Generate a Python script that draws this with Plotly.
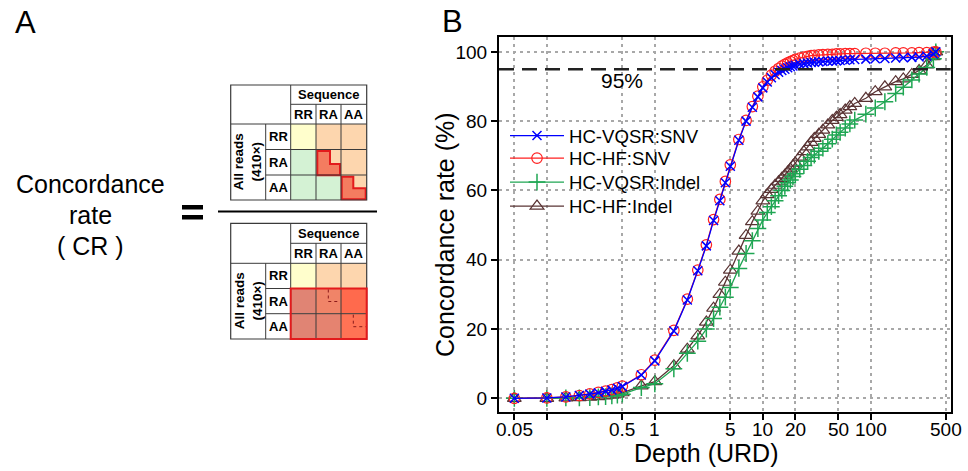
import math
import plotly.graph_objects as go

# ---------------- data (Panel B) ----------------
depth = [0.05, 0.1, 0.15, 0.2, 0.25, 0.3, 0.35, 0.4, 0.45, 0.5,
         0.75, 1,
         1.5, 2, 2.5, 3, 3.5, 4, 4.5, 5,
         6, 7, 8, 9, 10, 11, 12, 13, 14, 15, 16, 17, 18, 19, 20,
         22, 24, 26, 28, 30,
         33, 36, 40, 44, 48, 52, 58, 64, 71,
         90, 110, 135, 170, 200, 240, 280, 330, 380, 400]

snv_vqsr = [0, 0.1, 0.4, 0.8, 1.2, 1.6, 2.0, 2.4, 2.9, 3.4,
            6.7, 10.8,
            19.4, 28.4, 36.8, 44.0, 51.3, 57.0, 62.2, 67.0,
            74.5, 80.0, 84.0, 87.0, 89.6, 91.3, 92.5, 93.4, 94.1, 94.6, 95.0, 95.4, 95.7, 95.9, 96.1,
            96.4, 96.6, 96.8, 96.9, 97.0,
            97.1, 97.2, 97.3, 97.4, 97.4, 97.5, 97.6, 97.7, 97.8,
            97.9, 98.0, 98.1, 98.2, 98.3, 98.4, 98.5, 98.8, 99.4, 100]

snv_hf = [0, 0.1, 0.4, 0.8, 1.3, 1.7, 2.1, 2.5, 3.0, 3.5,
          6.8, 11.0,
          19.6, 28.6, 37.0, 44.3, 51.6, 57.4, 62.6, 67.4,
          74.7, 80.2, 84.2, 87.2, 89.9, 91.8, 93.3, 94.4, 95.2, 95.9, 96.4, 96.8, 97.2, 97.5, 97.8,
          98.2, 98.5, 98.7, 98.9, 99.0,
          99.1, 99.2, 99.3, 99.3, 99.4, 99.4, 99.5, 99.5, 99.5,
          99.6, 99.6, 99.6, 99.7, 99.7, 99.7, 99.8, 99.8, 99.9, 100]

indel_vqsr = [0, 0, 0.1, 0.1, 0.2, 0.4, 0.5, 0.7, 0.9, 1.2,
              3.1, 4.2,
              8.5, 13.0, 16.5, 20.0, 23.0, 26.3, 29.2, 32.0,
              37.5, 41.8, 45.5, 49.0, 51.5, 53.6, 55.3, 57.0, 58.5, 60.0, 61.2, 62.2, 63.0, 64.0, 64.8,
              66.1, 67.2, 68.4, 69.5, 70.2,
              71.3, 72.2, 73.5, 74.8, 76.0, 76.8, 78.0, 79.2, 80.3,
              82.0, 83.8, 85.6, 88.0, 89.8, 91.9, 93.6, 95.5, 98.0, 100]

indel_hf = [0, 0, 0.1, 0.2, 0.3, 0.5, 0.7, 0.9, 1.2, 1.6,
            3.6, 4.8,
            9.4, 14.2, 18.0, 22.0, 26.0, 30.0, 33.5, 37.0,
            42.5, 47.0, 51.0, 54.0, 57.0, 58.8, 60.3, 61.5, 62.5, 63.5, 64.4, 65.3, 66.2, 67.1, 67.9,
            69.6, 71.2, 72.6, 73.9, 75.0,
            76.2, 77.4, 78.9, 80.2, 81.1, 81.9, 83.2, 84.2, 85.1,
            86.6, 88.5, 89.9, 91.4, 92.2, 93.5, 94.6, 96.2, 98.6, 100]

series_names = ["HC-VQSR:SNV", "HC-HF:SNV", "HC-VQSR:Indel", "HC-HF:Indel"]
threshold = 95
threshold_label = "95%"

x_tick_vals = [0.05, 0.1, 0.5, 1, 5, 10, 20, 50, 100, 500]
x_tick_text = ["0.05", "", "0.5", "1", "5", "10", "20", "50", "100", "500"]
y_tick_vals = [0, 20, 40, 60, 80, 100]

# Panel A table content
geno = ["RR", "RA", "AA"]

# ---------------- helpers ----------------
W, H = 968, 471
FONT = "Arial, Liberation Sans, sans-serif"


def px(x):
    return x / W


def py(y):
    return 1 - y / H


def text(x, y, t, size, bold=False, angle=0, xref="paper", yref="paper"):
    return dict(xref=xref, yref=yref, x=x, y=y, text=(f"<b>{t}</b>" if bold else t), showarrow=False,
                xanchor="center", yanchor="middle", textangle=angle,
                font=dict(family=FONT, size=size, color="black"))


fig = go.Figure()

BLUE = "#0000FF"
RED = "#FF2020"
GREEN = "#1FA653"
BROWN = "#5A3434"

# draw order: indels first, SNVs on top
fig.add_trace(go.Scatter(x=depth, y=indel_hf, name=series_names[3], mode="lines+markers",
                         line=dict(color=BROWN, width=1.3),
                         marker=dict(symbol="triangle-up-open", size=12, color=BROWN,
                                     line=dict(width=1.2, color=BROWN)),
                         legend="legend4"))
fig.add_trace(go.Scatter(x=depth, y=indel_vqsr, name=series_names[2], mode="lines+markers",
                         line=dict(color=GREEN, width=1.3),
                         marker=dict(symbol="cross-thin", size=12, color=GREEN,
                                     line=dict(width=1.5, color=GREEN)),
                         legend="legend3"))
fig.add_trace(go.Scatter(x=depth, y=snv_hf, name=series_names[1], mode="lines+markers",
                         line=dict(color=RED, width=1.3),
                         marker=dict(symbol="circle-open", size=10.5, color=RED,
                                     line=dict(width=1.2, color=RED)),
                         legend="legend2"))
fig.add_trace(go.Scatter(x=depth, y=snv_vqsr, name=series_names[0], mode="lines+markers",
                         line=dict(color=BLUE, width=1.3),
                         marker=dict(symbol="x-thin", size=9, color=BLUE,
                                     line=dict(width=1.5, color=BLUE)),
                         legend="legend"))

x0p, x1p = 499, 950.7
y0p, y1p = 37.3, 412.3

fig.update_xaxes(type="log", range=[-1.443, 2.740], domain=[px(x0p), px(x1p)],
                 tickvals=x_tick_vals, showticklabels=False, automargin=False,
                 showline=True, mirror=True, linecolor="black", linewidth=2,
                 ticks="outside", ticklen=6, tickwidth=1.5, tickcolor="black",
                 showgrid=True, gridcolor="#A8A8A8", gridwidth=1.5, griddash="3px,4px",
                 zeroline=False)
fig.update_yaxes(range=[-4.04, 104.2], domain=[py(y1p), py(y0p)],
                 tickvals=y_tick_vals, automargin=False,
                 showline=True, mirror=True, linecolor="black", linewidth=2,
                 ticks="outside", ticklen=6, tickwidth=1.5, tickcolor="black",
                 tickfont=dict(family=FONT, size=19, color="black"),
                 showgrid=True, gridcolor="#A8A8A8", gridwidth=1.5, griddash="3px,4px",
                 zeroline=False)

shapes = []
annotations = []

# x tick labels, placed on the x axis scale
for v, t in zip(x_tick_vals, x_tick_text):
    if t:
        annotations.append(text(math.log10(v), py(429.5), t, 19, xref="x", yref="paper"))

# 95% threshold line
shapes.append(dict(type="line", xref="x domain", yref="y", x0=0, x1=1, y0=threshold, y1=threshold,
                   line=dict(color="#222222", width=2.5, dash="15px,8px")))
annotations.append(text(math.log10(0.5), 91.7, threshold_label, 21, xref="x", yref="y"))

# axis titles
annotations.append(text(px(705.5), py(453), "Depth (URD)", 25))
annotations.append(text(px(445), py(235), "Concordance rate (%)", 25, angle=-90))

# panel labels
annotations.append(text(px(25), py(23), "A", 31))
annotations.append(text(px(452), py(22), "B", 31))

# ---------------- Panel A ----------------
for txt, yy in [("Concordance", 184), ("rate", 215), ("( CR )", 246)]:
    annotations.append(text(px(90), py(yy), txt, 25))

# '=' sign
for ya, yb in [(205, 209.5), (215, 219.5)]:
    shapes.append(dict(type="rect", xref="paper", yref="paper", x0=px(182), x1=px(203),
                       y0=py(yb), y1=py(ya), fillcolor="black", line=dict(width=0)))
# fraction bar
shapes.append(dict(type="line", xref="paper", yref="paper", x0=px(218), x1=px(377),
                   y0=py(211.5), y1=py(211.5), line=dict(color="black", width=2)))

XE = [230.7, 265.7, 290.7, 316, 341, 366.7]

YELLOW = "#FFFECC"
PEACH = "#FDD6AE"
LGREEN = "#D4F2D4"
TRED = "#E31A1C"
LFILL = "#F47C60"


def rect(xa, xb, ya, yb, fill, lw=0, lc="black"):
    shapes.append(dict(type="rect", xref="paper", yref="paper", x0=px(xa), x1=px(xb),
                       y0=py(yb), y1=py(ya), fillcolor=fill, line=dict(width=lw, color=lc),
                       layer="above"))


def poly(pts, fill=None, lw=1, lc="black", dash=None, close=True):
    path = "M " + " L ".join(f"{px(a):.5f},{py(b):.5f}" for a, b in pts)
    if close:
        path += " Z"
    ln = dict(width=lw, color=lc)
    if dash:
        ln["dash"] = dash
    d = dict(type="path", xref="paper", yref="paper", path=path, line=ln, layer="above")
    if fill:
        d["fillcolor"] = fill
    shapes.append(d)


def line(xa, ya, xb, yb, lw=1, lc="#333333"):
    shapes.append(dict(type="line", xref="paper", yref="paper", x0=px(xa), x1=px(xb),
                       y0=py(ya), y1=py(yb), line=dict(width=lw, color=lc), layer="above"))


def table(YE, fills, kind):
    rect(XE[0], XE[5], YE[0], YE[5], "white")
    for r in range(3):
        for c in range(3):
            rect(XE[2 + c], XE[3 + c], YE[2 + r], YE[3 + r], fills[r][c])
    if kind == "num":
        poly([(317.3, 151), (330, 151), (330, 164), (340, 164), (340, 175.3), (317.3, 175.3)],
             fill=LFILL, lw=2, lc=TRED)
        poly([(341.7, 176.7), (353.3, 176.7), (353.3, 188.3), (365.7, 188.3), (365.7, 199.3),
              (341.7, 199.3)], fill=LFILL, lw=2, lc=TRED)
    lc = "#3A3A3A"
    rect(XE[0], XE[5], YE[0], YE[5], "rgba(0,0,0,0)", lw=1.2, lc=lc)
    line(XE[2], YE[1], XE[5], YE[1], lc=lc)
    line(XE[0], YE[2], XE[5], YE[2], lc=lc)
    line(XE[1], YE[3], XE[5], YE[3], lc=lc)
    line(XE[1], YE[4], XE[5], YE[4], lc=lc)
    line(XE[1], YE[2], XE[1], YE[5], lc=lc)
    line(XE[2], YE[0], XE[2], YE[5], lc=lc)
    line(XE[3], YE[1], XE[3], YE[5], lc=lc)
    line(XE[4], YE[1], XE[4], YE[5], lc=lc)
    if kind == "den":
        rect(XE[2], XE[5], YE[3], YE[5], "rgba(0,0,0,0)", lw=2, lc=TRED)
        poly([(328.3, YE[3] + 1), (328.3, YE[3] + 13), (340, YE[3] + 13)], lw=1, lc="#8B1A1A",
             dash="dot", close=False)
        poly([(353.3, YE[4] + 1), (353.3, YE[4] + 13), (365.7, YE[4] + 13)], lw=1, lc="#8B1A1A",
             dash="dot", close=False)
    annotations.append(text(px((XE[2] + XE[5]) / 2), py((YE[0] + YE[1]) / 2), "Sequence", 13, bold=True))
    for i, g in enumerate(geno):
        annotations.append(text(px((XE[2 + i] + XE[3 + i]) / 2), py((YE[1] + YE[2]) / 2), g, 13, bold=True))
        annotations.append(text(px((XE[1] + XE[2]) / 2), py((YE[2 + i] + YE[3 + i]) / 2), g, 13, bold=True))
    annotations.append(text(px((XE[0] + XE[1]) / 2), py((YE[2] + YE[5]) / 2),
                            "<b>All reads</b><br><b>(410×)</b>", 13.5, angle=-90))


top_fills = [[YELLOW, PEACH, PEACH], [LGREEN, PEACH, PEACH], [LGREEN, LGREEN, PEACH]]
table([85, 104.3, 124, 149.5, 175, 200], top_fills, "num")
bot_fills = [[YELLOW, PEACH, PEACH], ["#E08474", "#F08468", "#FF6A4D"], ["#E08474", "#E58370", "#FF7355"]]
table([223.3, 243.3, 263.3, 288.5, 313.7, 339], bot_fills, "den")

# legends (one per row to control spacing)
leg_rows = [136, 158.5, 182.5, 206.5]
leg_common = dict(xanchor="left", yanchor="middle", bgcolor="rgba(0,0,0,0)", borderwidth=0,
                  font=dict(family=FONT, size=18.6, color="black"), itemwidth=54)
fig.update_layout(
    legend=dict(x=px(505), y=py(leg_rows[0]), **leg_common),
    legend2=dict(x=px(505), y=py(leg_rows[1]), **leg_common),
    legend3=dict(x=px(505), y=py(leg_rows[2]), **leg_common),
    legend4=dict(x=px(505), y=py(leg_rows[3]), **leg_common),
)

fig.update_layout(width=W, height=H, margin=dict(l=0, r=0, t=0, b=0, autoexpand=False),
                  paper_bgcolor="white", plot_bgcolor="white",
                  shapes=shapes, annotations=annotations, showlegend=True,
                  font=dict(family=FONT))

fig.write_html("out.html", config={"displayModeBar": False},
               post_script="document.body.style.margin='0';document.body.style.padding='0';")
